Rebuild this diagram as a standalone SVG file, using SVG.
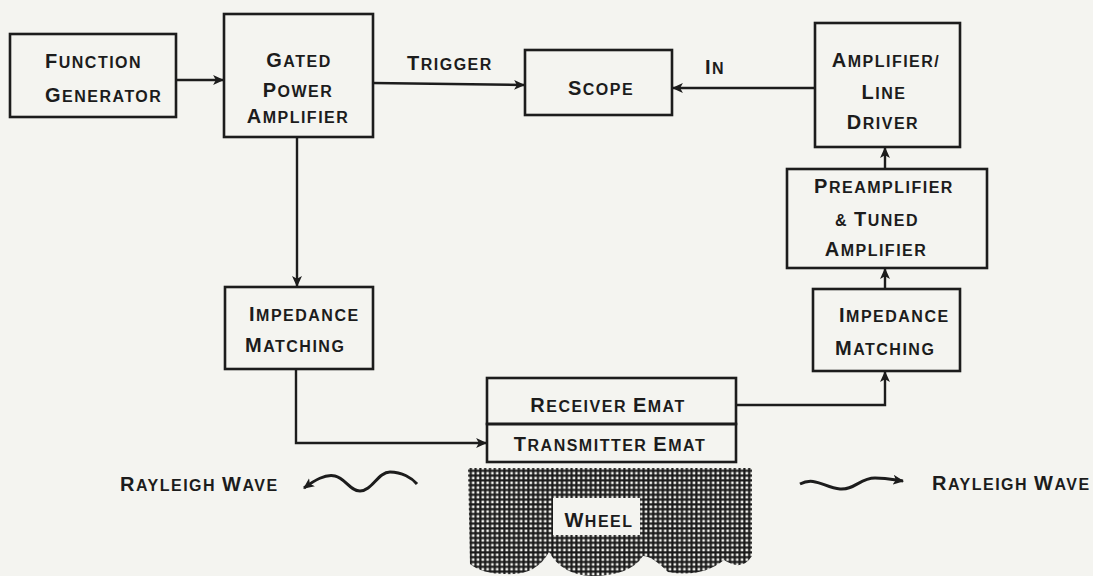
<svg xmlns="http://www.w3.org/2000/svg" width="1093" height="576" viewBox="0 0 1093 576">
<style>
.box{fill:none;stroke:#1c1c1c;stroke-width:2.6}
.ln{fill:none;stroke:#1c1c1c;stroke-width:2.4}
.wv{fill:none;stroke:#1c1c1c;stroke-width:3}
.t{font-family:"Liberation Sans",Arial,sans-serif;font-weight:bold;font-size:16px;fill:#1c1c1c;letter-spacing:1.5px}
.m{text-anchor:middle}
.c{font-size:20px}
</style>
<defs>
<marker id="ah" viewBox="0 0 10 10" refX="9" refY="5" markerWidth="11" markerHeight="11" markerUnits="userSpaceOnUse" orient="auto-start-reverse">
<path d="M0,0.5 L10,5 L0,9.5 L2.5,5 Z" fill="#1c1c1c"/>
</marker>
<pattern id="mesh" width="4.8" height="4.8" patternUnits="userSpaceOnUse">
<rect width="4.8" height="4.8" fill="#1a1a1a"/>
<rect x="1.5" y="1.5" width="2.6" height="2.6" fill="#f4f4f0"/>
</pattern>
</defs>
<rect width="1093" height="576" fill="#f4f4f0"/>

<g id="connectors">
<path class="ln" d="M176,80 H223" marker-end="url(#ah)"/>
<path class="ln" d="M373,83 L524,85" marker-end="url(#ah)"/>
<path class="ln" d="M815,88 H673" marker-end="url(#ah)"/>
<path class="ln" d="M297,137 V286" marker-end="url(#ah)"/>
<path class="ln" d="M296,369 V443 H486" marker-end="url(#ah)"/>
<path class="ln" d="M736,405 H885 V372" marker-end="url(#ah)"/>
<path class="ln" d="M885,289 V269" marker-end="url(#ah)"/>
<path class="ln" d="M885,169 V148" marker-end="url(#ah)"/>
<text class="t" x="407" y="70"><tspan class="c">T</tspan>RIGGER</text>
<text class="t" x="705" y="74"><tspan class="c">I</tspan>N</text>
</g>

<g id="function-generator">
<rect class="box" x="10" y="34" width="166" height="83"/>
<text class="t" x="45" y="68"><tspan class="c">F</tspan>UNCTION</text>
<text class="t" x="45" y="102"><tspan class="c">G</tspan>ENERATOR</text>
</g>

<g id="gated-power-amplifier">
<rect class="box" x="224" y="14" width="149" height="123"/>
<text class="t m" x="299" y="67"><tspan class="c">G</tspan>ATED</text>
<text class="t m" x="298" y="97"><tspan class="c">P</tspan>OWER</text>
<text class="t m" x="298" y="123"><tspan class="c">A</tspan>MPLIFIER</text>
</g>

<g id="scope">
<rect class="box" x="525" y="50" width="147" height="65"/>
<text class="t m" x="601" y="95"><tspan class="c">S</tspan>COPE</text>
</g>

<g id="amplifier-line-driver">
<rect class="box" x="815" y="23" width="145" height="124"/>
<text class="t m" x="886" y="67"><tspan class="c">A</tspan>MPLIFIER/</text>
<text class="t m" x="884" y="99"><tspan class="c">L</tspan>INE</text>
<text class="t m" x="883" y="129"><tspan class="c">D</tspan>RIVER</text>
</g>

<g id="preamplifier">
<rect class="box" x="787" y="169" width="200" height="99"/>
<text class="t m" x="884" y="193"><tspan class="c">P</tspan>REAMPLIFIER</text>
<text class="t m" x="877" y="226">&amp; <tspan class="c">T</tspan>UNED</text>
<text class="t m" x="876" y="256"><tspan class="c">A</tspan>MPLIFIER</text>
</g>

<g id="impedance-matching-right">
<rect class="box" x="813" y="289" width="147" height="82"/>
<text class="t" x="839" y="322"><tspan class="c">I</tspan>MPEDANCE</text>
<text class="t" x="835" y="355"><tspan class="c">M</tspan>ATCHING</text>
</g>

<g id="impedance-matching-left">
<rect class="box" x="225" y="287" width="148" height="82"/>
<text class="t" x="249" y="321"><tspan class="c">I</tspan>MPEDANCE</text>
<text class="t" x="245" y="352"><tspan class="c">M</tspan>ATCHING</text>
</g>

<g id="receiver-emat">
<rect class="box" x="487" y="378" width="249" height="46"/>
<text class="t m" x="608" y="412"><tspan class="c">R</tspan>ECEIVER <tspan class="c">E</tspan>MAT</text>
</g>

<g id="transmitter-emat">
<rect class="box" x="487" y="424" width="249" height="38"/>
<text class="t m" x="610" y="451"><tspan class="c">T</tspan>RANSMITTER <tspan class="c">E</tspan>MAT</text>
</g>

<g id="wheel">
<path d="M468,468 H752 V556 Q742,572 724,560 Q702,578 668,572 Q652,556 643,556 Q630,576 592,576 Q562,575 549,552 Q536,576 506,574 Q482,574 470,564 Z" fill="url(#mesh)"/>
<rect x="553" y="498" width="87" height="37" fill="#f4f4f0"/>
<text class="t m" x="599" y="527"><tspan class="c">W</tspan>HEEL</text>
</g>

<g id="rayleigh-wave-left">
<path class="wv" d="M304,488 C315,480 325,474 335,476 C345,478 350,491 360,491 C372,491 378,472 390,472 C402,472 412,478 417,484" marker-start="url(#ah)"/>
<text class="t" x="120" y="491"><tspan class="c">R</tspan>AYLEIGH <tspan class="c">W</tspan>AVE</text>
</g>

<g id="rayleigh-wave-right">
<path class="wv" d="M800,484 C815,476 825,488 840,489 C855,490 860,478 875,478 C888,478 895,480 903,481" marker-end="url(#ah)"/>
<text class="t" x="932" y="490"><tspan class="c">R</tspan>AYLEIGH <tspan class="c">W</tspan>AVE</text>
</g>
</svg>
